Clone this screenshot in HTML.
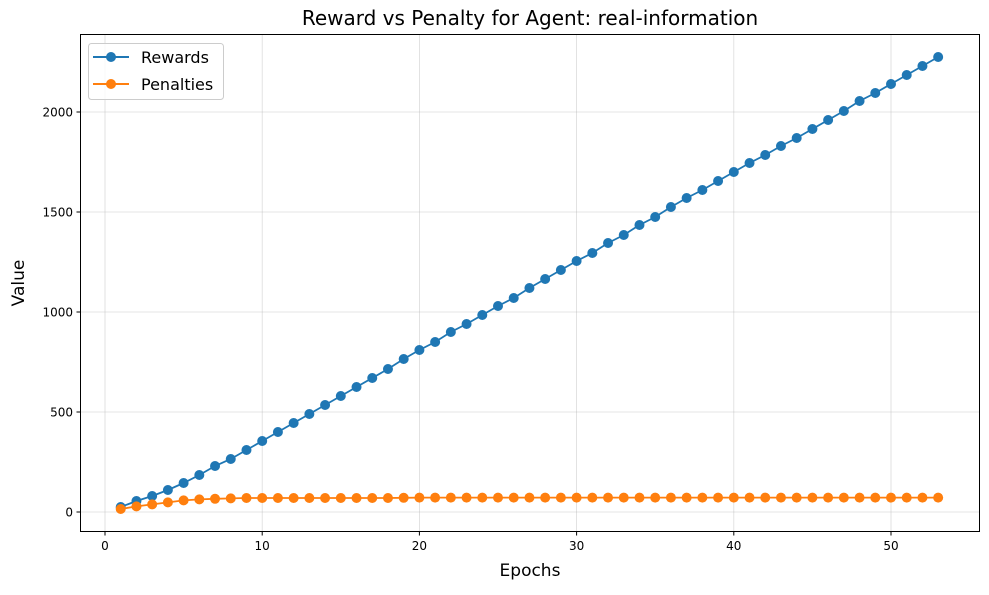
<!DOCTYPE html>
<html><head><meta charset="utf-8"><style>
body{margin:0;background:#fff;}
svg text{font-family:"DejaVu Sans","Liberation Sans",sans-serif;}
</style></head><body>
<svg id="chart" width="989" height="590" xmlns="http://www.w3.org/2000/svg">
<rect width="989" height="590" fill="#fff"/>
<g id="grid"></g>
<g id="series"></g>
<rect x="80.5" y="34.5" width="899" height="497" fill="none" stroke="#000" stroke-width="1"/>
<g id="ticks"></g>
<text x="530" y="25" font-size="20" text-anchor="middle">Reward vs Penalty for Agent: real-information</text>
<text x="530" y="576" font-size="17" text-anchor="middle">Epochs</text>
<text x="24" y="283" font-size="17" text-anchor="middle" transform="rotate(-90 24 283)">Value</text>
<g>
<rect x="88.5" y="43.5" width="135" height="56" rx="3" fill="#fff" fill-opacity="0.8" stroke="#ccc"/>
<g>
<line x1="93" y1="57" x2="129" y2="57" stroke="#1f77b4" stroke-width="2"/><circle cx="111" cy="57" r="5" fill="#1f77b4"/>
<text x="141" y="63" font-size="16">Rewards</text></g>
<g>
<line x1="93" y1="84" x2="129" y2="84" stroke="#ff7f0e" stroke-width="2"/><circle cx="111" cy="84" r="5" fill="#ff7f0e"/>
<text x="141" y="90" font-size="16">Penalties</text></g>
</g>
</svg>
<script>
const rewards=[25,55,80,110,145,185,230,265,310,355,400,445,490,535,580,625,670,715,765,810,850,900,940,985,1030,1070,1120,1165,1210,1255,1295,1345,1385,1435,1475,1525,1570,1610,1655,1700,1745,1785,1830,1870,1915,1960,2005,2055,2095,2140,2185,2230,2275];
const penalties=[15,28,38,48,58,63,66,68,70,70,70,70,70,70,70,70,70,70,71,72,72,72,72,72,72,72,72,72,72,72,72,72,72,72,72,72,72,72,72,72,72,72,72,72,72,72,72,72,72,72,72,72,72];
const xTicks=[0,10,20,30,40,50];
const yTicks=[0,500,1000,1500,2000];
const NS="http://www.w3.org/2000/svg";
const xS=v=>105+v*15.72;
const yS=v=>512-v*0.2;
function mk(t,a,p){const e=document.createElementNS(NS,t);for(const k in a)e.setAttribute(k,a[k]);p.appendChild(e);return e;}
const grid=document.getElementById('grid'),ticks=document.getElementById('ticks'),ser=document.getElementById('series');
xTicks.forEach(v=>{const x=xS(v);
const g=mk('line',{x1:x,x2:x,y1:35,y2:531,stroke:'#b0b0b0','stroke-opacity':0.45,'stroke-width':0.8},grid);


mk('line',{x1:x,x2:x,y1:532,y2:535.5,stroke:'#000'},ticks);
const t=mk('text',{x:x,y:550,'font-size':12,'text-anchor':'middle'},ticks);t.textContent=v;

});
yTicks.forEach(v=>{const y=yS(v);
const g=mk('line',{x1:81,x2:979,y1:y,y2:y,stroke:'#b0b0b0','stroke-opacity':0.45,'stroke-width':0.8},grid);


mk('line',{x1:76.5,x2:80,y1:y,y2:y,stroke:'#000'},ticks);
const t=mk('text',{x:73,y:y+4.5,'font-size':12,'text-anchor':'end'},ticks);t.textContent=v;

});
function draw(data,color,name){
const pts=data.map((v,i)=>xS(i+1)+','+yS(v)).join(' ');
const l=mk('polyline',{points:pts,fill:'none',stroke:color,'stroke-width':1.8},ser);


data.forEach((v,i)=>{const c=mk('circle',{cx:xS(i+1),cy:yS(v),r:5,fill:color},ser);

});}
draw(rewards,'#1f77b4','rewards');
draw(penalties,'#ff7f0e','penalties');
</script>
</body></html>
